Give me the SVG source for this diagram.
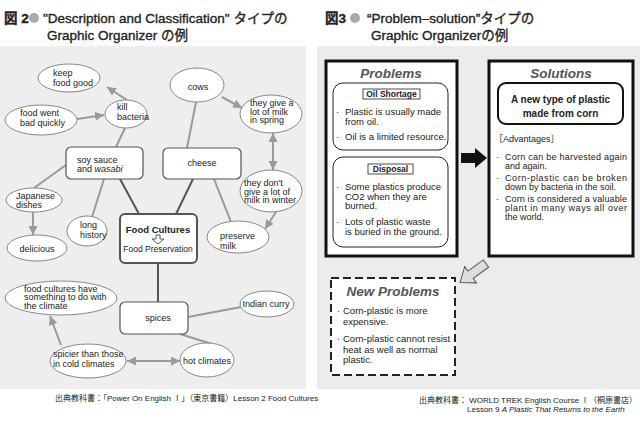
<svg xmlns="http://www.w3.org/2000/svg" width="640" height="424" viewBox="0 0 640 424">
<style>
text{font-family:"Liberation Sans","Noto Sans CJK JP",sans-serif;fill:#222}
.t{font-size:9px}
.ttl{font-size:13.5px;stroke:#222;stroke-width:0.35}
.el{fill:#fff;stroke:#888;stroke-width:1}
.rr{fill:#fff;stroke:#555;stroke-width:1.2}
.g{stroke:#9a9a9a;stroke-width:2;fill:none}
.d{stroke:#555;stroke-width:2;fill:none}
.h{font-size:13.5px;font-weight:bold;font-style:italic;fill:#555}
.b{font-size:9.5px}
.s{font-size:9px}
.lb{font-size:8.5px;font-weight:bold}
.src{font-size:8px}
</style>
<defs>
<marker id="ah" viewBox="0 0 10 10" refX="10" refY="5" markerWidth="9" markerHeight="9" markerUnits="userSpaceOnUse" orient="auto-start-reverse">
<path d="M0,0 L10,5 L0,10 z" fill="#9a9a9a"/>
</marker>
</defs>
<rect x="0" y="46" width="306" height="343" fill="#eeeeee"/>
<rect x="317" y="46" width="323" height="343" fill="#ececec"/>
<g id="title-left">
<text x="4" y="23" class="ttl" font-weight="bold">図 2</text>
<circle cx="34" cy="18" r="5" fill="#aaa"/>
<text x="43" y="23" class="ttl">"Description and Classification" タイプの</text>
<text x="47" y="40" class="ttl">Graphic Organizer の例</text>
</g>
<g id="title-right">
<text x="325" y="23" class="ttl" font-weight="bold">図3</text>
<circle cx="355" cy="18" r="5" fill="#aaa"/>
<text x="367" y="23" class="ttl">“Problem–solution”タイプの</text>
<text x="371" y="40" class="ttl">Graphic Organizerの例</text>
</g>
<g id="connectors">
<line class="g" x1="125" y1="128" x2="116" y2="147"/>
<line class="g" x1="66" y1="165" x2="34" y2="188"/>
<line class="g" x1="104" y1="179" x2="92" y2="217"/>
<line class="g" x1="196" y1="102" x2="187" y2="148"/>
<line class="g" x1="214" y1="179" x2="231" y2="222"/>
<line class="g" x1="188" y1="317" x2="241" y2="307"/>
<line class="g" x1="180" y1="334" x2="212" y2="344"/>
<line class="d" x1="120" y1="179" x2="139" y2="214"/>
<line class="d" x1="193" y1="179" x2="176" y2="214"/>
<line class="d" x1="158" y1="263" x2="158" y2="302"/>
<line class="g" x1="127" y1="100" x2="107" y2="87" marker-end="url(#ah)"/>
<line class="g" x1="77" y1="119" x2="104" y2="115" marker-end="url(#ah)"/>
<line class="g" x1="33" y1="212" x2="33" y2="235" marker-end="url(#ah)"/>
<line class="g" x1="222" y1="97" x2="242" y2="108" marker-end="url(#ah)"/>
<line class="g" x1="273" y1="133" x2="273" y2="170" marker-start="url(#ah)" marker-end="url(#ah)"/>
<line class="g" x1="276" y1="212" x2="265" y2="229" marker-end="url(#ah)"/>
<line class="g" x1="127" y1="361" x2="180" y2="361" marker-start="url(#ah)" marker-end="url(#ah)"/>
<line class="g" x1="61" y1="345" x2="50" y2="316" marker-end="url(#ah)"/>
<polygon points="461,153 475,153 475,148 487,158 475,168 475,163 461,163" fill="#111"/>
<polygon points="-16,-4.5 3,-4.5 3,-10 16,0 3,10 3,4.5 -16,4.5" transform="translate(473,273) rotate(144)" fill="#ddd" stroke="#555" stroke-width="1"/>
</g>
<g id="n-keep"><ellipse class="el" cx="69" cy="78" rx="31" ry="14"/><text class="t" x="53" y="75.5">keep</text><text class="t" x="53" y="85.5">food good</text></g>
<g id="n-kill"><ellipse class="el" cx="126" cy="114" rx="21" ry="14"/><text class="t" x="117" y="110">kill</text><text class="t" x="117" y="119.5">bacteria</text></g>
<g id="n-went"><ellipse class="el" cx="41" cy="120" rx="36" ry="15"/><text class="t" x="20" y="116">food went</text><text class="t" x="20" y="126">bad quickly</text></g>
<g id="n-soy"><rect class="rr" x="66" y="147" width="77" height="32" rx="5"/><text class="t" x="77" y="162.5">soy sauce</text><text class="t" x="77" y="172">and <tspan font-style="italic">wasabi</tspan></text></g>
<g id="n-cheese"><rect class="rr" x="163" y="148" width="78" height="31" rx="5"/><text class="t" x="202" y="166" text-anchor="middle">cheese</text></g>
<g id="n-cows"><ellipse class="el" cx="197" cy="85" rx="27" ry="17"/><text class="t" x="198" y="90" text-anchor="middle">cows</text></g>
<g id="n-spring"><ellipse class="el" cx="271" cy="114" rx="31" ry="19"/><text class="t" x="250" y="106">they give a</text><text class="t" x="250" y="114.5">lot of milk</text><text class="t" x="250" y="123">in spring</text></g>
<g id="n-winter"><ellipse class="el" cx="271" cy="191" rx="31" ry="21"/><text class="t" x="244" y="186">they don't</text><text class="t" x="244" y="194.5">give a lot of</text><text class="t" x="244" y="203">milk in winter</text></g>
<g id="n-preserve"><ellipse class="el" cx="238" cy="237" rx="31" ry="16"/><text class="t" x="220" y="239">preserve</text><text class="t" x="220" y="248.5">milk</text></g>
<g id="n-food"><rect x="120" y="214" width="77" height="49" rx="5" fill="#fff" stroke="#555" stroke-width="2"/><text x="158" y="232.5" font-size="9.5" font-weight="bold" text-anchor="middle">Food Cultures</text><polygon points="156,235 160,235 160,239 164,239 158,244 152,239 156,239" fill="#fff" stroke="#333" stroke-width="0.8"/><text x="158" y="251.5" font-size="8.5" text-anchor="middle">Food Preservation</text></g>
<g id="n-japanese"><ellipse class="el" cx="34" cy="200" rx="28" ry="12"/><text class="t" x="16" y="198.5">Japanese</text><text class="t" x="16" y="207.5">dishes</text></g>
<g id="n-delicious"><ellipse class="el" cx="37" cy="248" rx="30" ry="13"/><text class="t" x="37" y="252" text-anchor="middle">delicious</text></g>
<g id="n-long"><ellipse class="el" cx="87" cy="231" rx="20" ry="15"/><text class="t" x="80" y="228">long</text><text class="t" x="80" y="237.5">history</text></g>
<g id="n-climate"><ellipse class="el" cx="61" cy="298" rx="56" ry="17"/><text class="t" x="24" y="291.5">food cultures have</text><text class="t" x="24" y="300">something to do with</text><text class="t" x="24" y="308.5">the climate</text></g>
<g id="n-spices"><rect class="rr" x="120" y="302" width="68" height="32" rx="5"/><text class="t" x="158" y="321" text-anchor="middle">spices</text></g>
<g id="n-curry"><ellipse class="el" cx="267" cy="304" rx="27" ry="13"/><text class="t" x="266" y="307" text-anchor="middle">Indian curry</text></g>
<g id="n-hot"><ellipse class="el" cx="207" cy="360" rx="27" ry="17"/><text class="t" x="207" y="364" text-anchor="middle">hot climates</text></g>
<g id="n-spicier"><ellipse class="el" cx="88" cy="361" rx="38" ry="17"/><text class="t" x="53" y="357">spicier than those</text><text class="t" x="53" y="366.5">in cold climates</text></g>
<text class="src" x="55" y="401">出典教科書：「Power On English Ⅰ」（東京書籍）Lesson 2  Food Cultures</text>
<g id="problems">
<rect x="326" y="61" width="131" height="195" fill="#fff" stroke="#111" stroke-width="3"/>
<text class="h" x="391" y="78" text-anchor="middle">Problems</text>
<rect x="333" y="83" width="115" height="67" rx="10" fill="#fff" stroke="#222" stroke-width="1"/>
<rect x="363" y="89" width="57" height="10" fill="#fff" stroke="#222" stroke-width="0.8"/>
<text class="lb" x="391.5" y="97" text-anchor="middle">Oil Shortage</text>
<text class="b" x="336" y="115">·</text><text class="b" x="345" y="115">Plastic is usually made</text>
<text class="b" x="345" y="124.5">from oil.</text>
<text class="b" x="336" y="140">·</text><text class="b" x="345" y="140">Oil is a limited resource.</text>
<rect x="333" y="157" width="115" height="90" rx="10" fill="#fff" stroke="#222" stroke-width="1"/>
<rect x="368" y="164" width="45" height="10" fill="#fff" stroke="#222" stroke-width="0.8"/>
<text class="lb" x="390.5" y="172" text-anchor="middle">Disposal</text>
<text class="b" x="336" y="190">·</text><text class="b" x="345" y="190">Some plastics produce</text>
<text class="b" x="345" y="199.5">CO2 when they are</text>
<text class="b" x="345" y="209">burned.</text>
<text class="b" x="336" y="225">·</text><text class="b" x="345" y="225">Lots of plastic waste</text>
<text class="b" x="345" y="234.5">is buried in the ground.</text>
</g>
<g id="solutions">
<rect x="489" y="61" width="144" height="195" fill="#fff" stroke="#111" stroke-width="3"/>
<text class="h" x="561" y="78" text-anchor="middle">Solutions</text>
<rect x="498" y="83" width="125" height="41" rx="8" fill="#fff" stroke="#111" stroke-width="2"/>
<text x="560.5" y="102.5" font-size="10" font-weight="bold" text-anchor="middle">A new type of plastic</text>
<text x="560.5" y="116.5" font-size="10" font-weight="bold" text-anchor="middle">made from corn</text>
<text class="s" x="494" y="142">［Advantages］</text>
<text class="s" x="496" y="159.5">·</text><text class="s" x="505" y="159.5" textLength="122" lengthAdjust="spacing">Corn can be harvested again</text>
<text class="s" x="505" y="169">and again.</text>
<text class="s" x="496" y="180.5">·</text><text class="s" x="505" y="180.5" textLength="122" lengthAdjust="spacing">Corn-plastic can be broken</text>
<text class="s" x="505" y="190">down by bacteria in the soil.</text>
<text class="s" x="496" y="201.5">·</text><text class="s" x="505" y="201.5" textLength="122" lengthAdjust="spacing">Corn is considered a valuable</text>
<text class="s" x="505" y="210.5" textLength="122" lengthAdjust="spacing">plant in many ways all over</text>
<text class="s" x="505" y="219.5">the world.</text>
</g>
<g id="new-problems">
<rect x="331" y="278" width="124" height="97" fill="#fff" stroke="#222" stroke-width="2" stroke-dasharray="8,4"/>
<text class="h" x="393" y="296" text-anchor="middle">New Problems</text>
<text class="b" x="337" y="314">·</text><text class="b" x="343" y="314">Corn-plastic is more</text>
<text class="b" x="343" y="325">expensive.</text>
<text class="b" x="337" y="342">·</text><text class="b" x="343" y="342">Corn-plastic cannot resist</text>
<text class="b" x="343" y="353">heat as well as normal</text>
<text class="b" x="343" y="363">plastic.</text>
</g>
<text class="src" x="419" y="403">出典教科書：  WORLD TREK English Course Ⅰ（桐原書店）</text>
<text class="src" x="467" y="412">Lesson 9   <tspan font-style="italic">A Plastic That Returns to the Earth</tspan></text>
</svg>
